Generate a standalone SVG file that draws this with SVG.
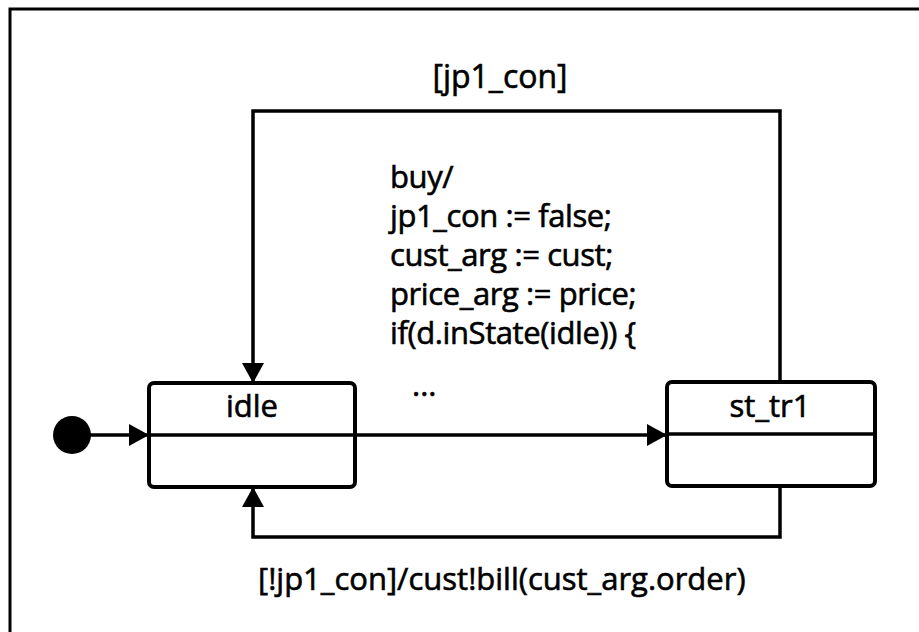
<svg xmlns="http://www.w3.org/2000/svg" width="919" height="632" viewBox="0 0 919 632">
  <style>
    .frame { fill: none; stroke: #000; stroke-width: 3; }
    .state { fill: #fff; stroke: #000; stroke-width: 4; }
    .div { stroke: #000; stroke-width: 3.5; }
    .edge { fill: none; stroke: #000; stroke-width: 3.5; }
    text { font-family: "Open Sans", "Liberation Sans", sans-serif; font-size: 31px; fill: #000; stroke: #000; stroke-width: 0.6px; }
    .mid { text-anchor: middle; }
    .code { letter-spacing: -0.4px; }
  </style>
  <defs>
    <marker id="arrow" viewBox="0 0 20 22" refX="20" refY="11" markerWidth="20" markerHeight="22" markerUnits="userSpaceOnUse" orient="auto">
      <path d="M0,0 L20,11 L0,22 Z" fill="#000"/>
    </marker>
  </defs>

  <rect width="919" height="632" fill="#fff"/>
  <!-- outer frame, running past the right and bottom edges -->
  <path class="frame" d="M10,640 L10,9 L930,9"/>

  <!-- connectors -->
  <g id="connectors">
    <line class="edge" x1="90" y1="435" x2="149" y2="435" marker-end="url(#arrow)"/>
    <line class="edge" x1="355" y1="435" x2="667" y2="435" marker-end="url(#arrow)"/>
    <path class="edge" d="M780,382 L780,111 L253,111 L253,383" marker-end="url(#arrow)"/>
    <path class="edge" d="M780,486 L780,537 L253,537 L253,487" marker-end="url(#arrow)"/>
  </g>

  <!-- transition labels -->
  <g id="labels">
    <text class="mid" x="500" y="88" style="font-size:32px">[jp1_con]</text>
    <text class="code" x="390" y="188">buy/</text>
    <text class="code" x="390" y="227">jp1_con := false;</text>
    <text class="code" x="390" y="266">cust_arg := cust;</text>
    <text class="code" x="390" y="305">price_arg := price;</text>
    <text class="code" x="390" y="344">if(d.inState(idle)) {</text>
    <text x="412" y="396">...</text>
    <text x="258" y="590">[!jp1_con]/cust!bill(cust_arg.order)</text>
  </g>

  <g id="initial">
    <circle cx="72" cy="435" r="19" fill="#000"/>
  </g>

  <g id="idle">
    <rect class="state" x="149" y="383" width="206" height="104" rx="5"/>
    <line class="div" x1="149" y1="435" x2="355" y2="435"/>
    <text class="mid" x="252" y="417">idle</text>
  </g>

  <g id="st_tr1">
    <rect class="state" x="667" y="382" width="208" height="104" rx="5"/>
    <line class="div" x1="667" y1="434" x2="875" y2="434"/>
    <text class="mid" x="770" y="417">st_tr1</text>
  </g>
</svg>
